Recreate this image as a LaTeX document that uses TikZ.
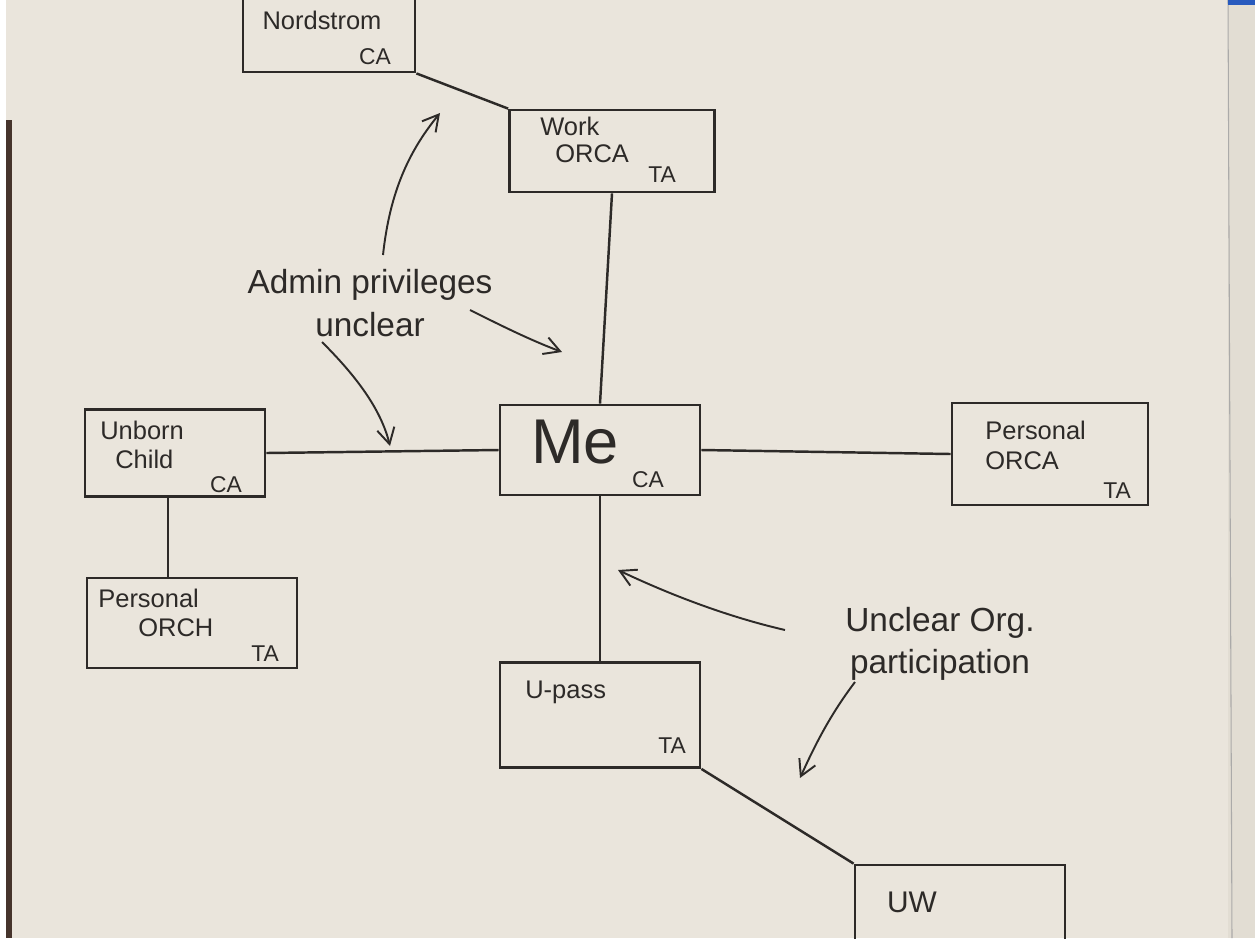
\documentclass[tikz,border=0pt]{standalone}
\usepackage{fontspec}
\setmainfont{Liberation Sans}
\usetikzlibrary{arrows.meta}
\definecolor{paper}{RGB}{234,229,220}
\definecolor{paperedge}{RGB}{226,221,211}
\definecolor{pencil}{RGB}{45,42,40}
\definecolor{desk}{RGB}{70,52,44}
\definecolor{cover}{RGB}{40,90,190}
\begin{document}
\begin{tikzpicture}[x=0.02cm,y=-0.02cm,
  box/.style={draw=pencil,line width=1.6pt,inner sep=0pt},
  hand/.style={text=pencil,font=\fontsize{14.5}{16}\selectfont,inner sep=0pt},
  small/.style={text=pencil,font=\fontsize{13}{15}\selectfont,inner sep=0pt},
  note/.style={text=pencil,font=\fontsize{19}{24}\selectfont,align=center,inner sep=1pt},
  link/.style={draw=pencil,line width=1.4pt},
  remark/.style={draw=pencil,line width=1.1pt,-{Straight Barb[length=9pt,width=10pt]}}]
% sheet of paper
\useasboundingbox (0,0) rectangle (1255,938);
\fill[paper] (0,0) rectangle (1255,938);
\fill[paperedge] (1228,0) rectangle (1255,938);
\draw[pencil!40,line width=0.6pt] (1228,0) -- (1232,938);
\fill[cover] (1228,0) rectangle (1255,5);
\fill[white] (0,0) rectangle (6,938);
\fill[desk] (6,120) rectangle (12,938);

% boxes
\node[box,minimum width=172*0.02cm,minimum height=100*0.02cm] (nord) at (329,22) {};
\node[box,minimum width=205*0.02cm,minimum height=82*0.02cm] (work) at (612,151) {};
\node[box,minimum width=200*0.02cm,minimum height=90*0.02cm] (me) at (600,450) {};
\node[box,minimum width=180*0.02cm,minimum height=87*0.02cm] (unborn) at (175,453) {};
\node[box,minimum width=196*0.02cm,minimum height=102*0.02cm] (pers) at (1050,454) {};
\node[box,minimum width=210*0.02cm,minimum height=90*0.02cm] (porch) at (192,623) {};
\node[box,minimum width=200*0.02cm,minimum height=105*0.02cm] (upass) at (600,715) {};
\node[box,minimum width=210*0.02cm,minimum height=120*0.02cm] (uw) at (960,925) {};

% box texts
\node[hand] (nordname) at (322,20) {Nordstrom};
\node[small] (nordtag) at (375,57) {CA};
\node[hand,anchor=west] (workname) at (540,126) {Work};
\node[hand,anchor=west] (workorca) at (555,154) {ORCA};
\node[small] (worktag) at (662,175) {TA};
\node[font=\fontsize{36}{40}\selectfont,text=pencil] (mename) at (575,442) {Me};
\node[small] (metag) at (648,480) {CA};
\node[hand,anchor=west] (unbname) at (100,430) {Unborn};
\node[hand,anchor=west] (unbchild) at (115,459) {Child};
\node[small] (unbtag) at (226,485) {CA};
\node[hand,anchor=west] (persname) at (985,430) {Personal};
\node[hand,anchor=west] (persorca) at (985,461) {ORCA};
\node[small] (perstag) at (1117,491) {TA};
\node[hand,anchor=west] (porchname) at (98,598) {Personal};
\node[hand,anchor=west] (porchorch) at (138,628) {ORCH};
\node[small] (porchtag) at (265,654) {TA};
\node[hand,anchor=west] (upassname) at (525,692) {U-pass};
\node[small] (upasstag) at (672,746) {TA};
\node[hand,font=\fontsize{17}{19}\selectfont] (uwname) at (912,902) {UW};

% links between boxes
\draw[link] (nord.south east) -- (work.north west);
\draw[link] (work.south) -- (me.north);
\draw[link] (unborn.east) -- (me.west);
\draw[link] (me.east) -- (pers.west);
\draw[link] ([xshift=-7*0.02cm]unborn.south) -- ([xshift=-7*0.02cm]unborn.south |- porch.north);
\draw[link] (me.south) -- (upass.north);
\draw[link] (upass.south east) -- (uw.north west);

% remarks
\node[note] (adm) at (370,303) {Admin privileges\\unclear};
\node[note] (org) at (940,644) {Unclear Org.\\participation};
\coordinate (admtop) at (383,255);
\coordinate (admright) at (470,310);
\coordinate (admleft) at (322,342);
\coordinate (orgleft) at (785,630);
\coordinate (orgdown) at (855,682);
\draw[remark] (admtop) .. controls (390,190) and (410,150) .. (440,113);
\draw[remark] (admright) .. controls (500,325) and (530,340) .. (562,352);
\draw[remark] (admleft) .. controls (350,370) and (380,405) .. (390,446);
\draw[remark] (orgleft) .. controls (720,615) and (660,590) .. (618,570);
\draw[remark] (orgdown) .. controls (830,715) and (815,745) .. (800,778);
\end{tikzpicture}
\end{document}
